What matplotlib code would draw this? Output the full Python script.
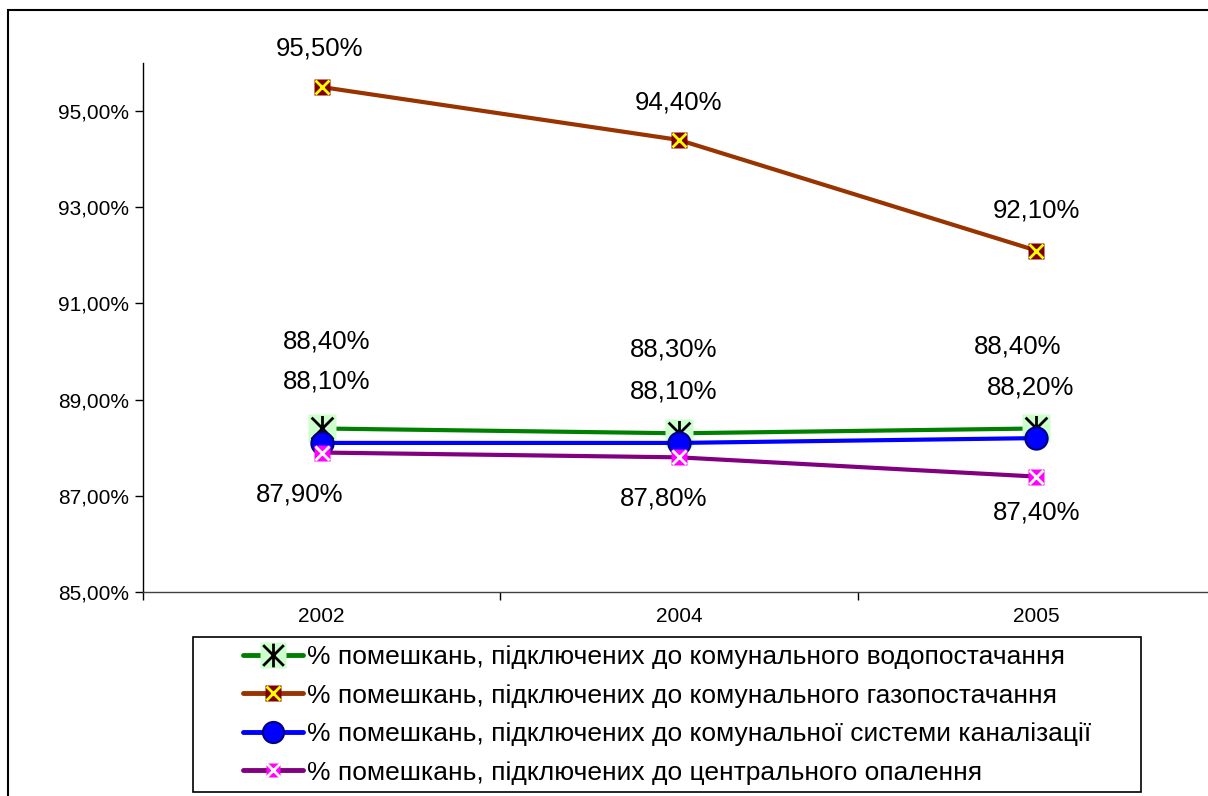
import matplotlib
matplotlib.use("Agg")
import matplotlib.pyplot as plt
from matplotlib.path import Path
from matplotlib.lines import Line2D
from matplotlib.patches import Rectangle
import numpy as np

plt.rcParams['font.family'] = ['Liberation Sans', 'DejaVu Sans']

years = ["2002", "2004", "2005"]
water = [88.4, 88.3, 88.4]
gas = [95.5, 94.4, 92.1]
sewer = [88.1, 88.1, 88.2]
heating = [87.9, 87.8, 87.4]
labels = [
    "% помешкань, підключених до комунального водопостачання",
    "% помешкань, підключених до комунального газопостачання",
    "% помешкань, підключених до комунальної системи каналізації",
    "% помешкань, підключених до центрального опалення",
]
yticks = [85, 87, 89, 91, 93, 95]

def fmt(v):
    return f"{v:.2f}%".replace(".", ",")

W, H = 1208, 796
fig = plt.figure(figsize=(W / 100, H / 100), dpi=100)
ax = fig.add_axes([143 / W, 1 - 592 / H, (1215 - 143) / W, (592 - 63) / H])

x = np.arange(len(years))

star = Path([(-1, -1), (1, 1), (-1, 1), (1, -1), (0, -1.15), (0, 1.15)],
            [Path.MOVETO, Path.LINETO, Path.MOVETO, Path.LINETO, Path.MOVETO, Path.LINETO])

series = [
    dict(y=water, color="#008000",
         layers=[dict(marker="s", ms=20, mfc="#ccffcc", mec="none"),
                 dict(marker=star, ms=18, mfc="none", mec="black", mew=2)]),
    dict(y=gas, color="#993300",
         layers=[dict(marker="s", ms=11.5, mfc="#800000", mec="none"),
                 dict(marker="x", ms=10.5, mfc="none", mec="#ffff00", mew=2)]),
    dict(y=sewer, color="#0000ff",
         layers=[dict(marker="o", ms=16, mfc="#0000ff", mec="#000080", mew=1.5)]),
    dict(y=heating, color="#800080",
         layers=[dict(marker="s", ms=11, mfc="#ff00ff", mec="none"),
                 dict(marker="x", ms=10, mfc="none", mec="white", mew=2)]),
]

handles = []
for i, s in enumerate(series):
    z = 3 + i
    ax.plot(x, s["y"], color=s["color"], lw=3, zorder=z, solid_capstyle="round")
    hs = [Line2D([], [], color=s["color"], lw=3.5, solid_capstyle="round")]
    for L in s["layers"]:
        ax.plot(x, s["y"], linestyle="none", marker=L["marker"], markersize=L["ms"],
                markerfacecolor=L["mfc"], markeredgecolor=L["mec"],
                markeredgewidth=L.get("mew", 1), zorder=z + 0.5, clip_on=False)
        hs.append(Line2D([], [], linestyle="none", marker=L["marker"], markersize=L["ms"] * 0.95,
                         markerfacecolor=L["mfc"], markeredgecolor=L["mec"],
                         markeredgewidth=L.get("mew", 1)))
    handles.append(tuple(hs))

# label offsets in pixels (dx, dy) relative to point
offsets = [
    [(5, 87), (-5, 84), (-19, 82)],      # water
    [(-2, 39), (0, 37), (0, 40)],        # gas
    [(5, 61), (-5, 51), (-6, 51)],       # sewer
    [(-22, -42), (-15, -41), (0, -36)],  # heating
]
for s, offs in zip(series, offsets):
    for xi, yi, (dx, dy) in zip(x, s["y"], offs):
        ax.annotate(fmt(yi), (xi, yi), xytext=(dx * 0.72, dy * 0.72),
                    textcoords="offset points", ha="center", va="center",
                    fontsize=18.5, color="black", annotation_clip=False)

ax.set_xlim(-0.5, 2.5)
ax.set_ylim(85, 96)
ax.set_yticks(yticks)
ax.set_yticklabels([fmt(v) for v in yticks], fontsize=15)
ax.set_xticks(x)
ax.set_xticklabels(years, fontsize=15)
ax.tick_params(axis="x", which="major", length=0, pad=11)
ax.set_xticks([-0.5, 0.5, 1.5, 2.5], minor=True)
ax.tick_params(axis="x", which="minor", length=6, direction="out", width=1)
ax.tick_params(axis="y", length=6, direction="out", width=1, pad=4)
for sp in ["top", "right"]:
    ax.spines[sp].set_visible(False)
ax.spines["left"].set_linewidth(1)
ax.spines["bottom"].set_linewidth(1)
ax.spines["bottom"].set_color("#404040")

leg = fig.legend(handles, labels, loc="upper left",
                 bbox_to_anchor=(243 / W, 1 - 645 / H),
                 fontsize=19, frameon=False,
                 handlelength=2.27, handletextpad=0.15, borderaxespad=0,
                 labelspacing=0.55, borderpad=0)

# legend frame
fig.patches.append(Rectangle((193 / W, 1 - 792 / H), (1141 - 193) / W, (792 - 637) / H,
                             transform=fig.transFigure, fill=False,
                             edgecolor="black", linewidth=1.2, zorder=5))

fig.patches.append(Rectangle((8 / W, -0.2), 2, 1 - 10 / H + 0.2, transform=fig.transFigure,
                             fill=False, edgecolor="black", linewidth=1.5))

fig.savefig("out.png", dpi=100)
